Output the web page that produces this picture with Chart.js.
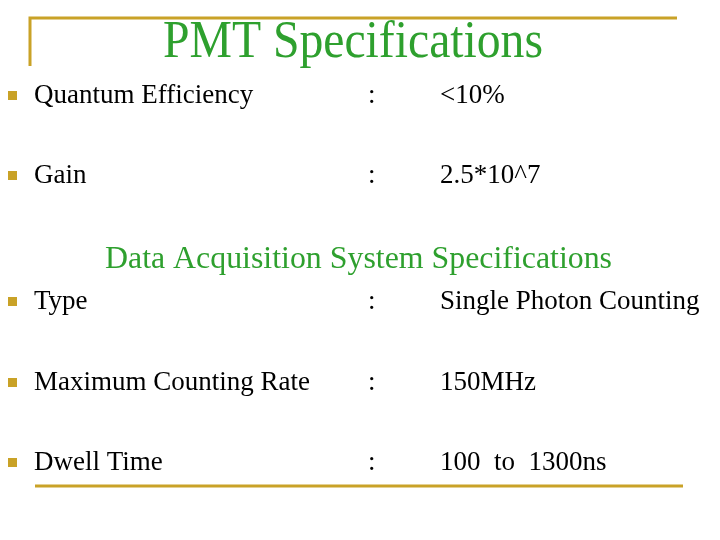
<!DOCTYPE html><html><head><script src="https://cdn.jsdelivr.net/npm/chart.js"></script>
<style>html,body{margin:0;background:#fff}#w{width:720px;height:540px}</style></head><body><div id="w"><canvas id="c"></canvas></div>
<script>
const title = "PMT Specifications";
const subtitle = "Data Acquisition System Specifications";
const labels = ["Quantum Efficiency","Gain","Type","Maximum Counting Rate","Dwell Time"];
const values = ["<10%","2.5*10^7","Single Photon Counting","150MHz","100  to  1300ns"];
const rowY = [96,176,302,383,463];
const gold = "#C9A227";
function fitText(ctx,t,x,y,w,align){
  const m = ctx.measureText(t).width; const s = w? w/m : 1;
  ctx.save(); ctx.translate(x,y); ctx.scale(s,1); ctx.textAlign=align||'left'; ctx.fillText(t,0,0); ctx.restore();
}
const slide = { id:'slide', afterDraw(ch){
  const ctx=ch.ctx, X=ch.scales.x, Y=ch.scales.y;
  const px=v=>X.getPixelForValue(v), py=v=>Y.getPixelForValue(v);
  ctx.save();
  ctx.strokeStyle=gold; ctx.lineWidth=3;
  ctx.beginPath(); ctx.moveTo(px(30),py(66)); ctx.lineTo(px(30),py(18)); ctx.lineTo(px(677),py(18)); ctx.stroke();
  ctx.beginPath(); ctx.moveTo(px(35),py(486)); ctx.lineTo(px(683),py(486)); ctx.stroke();
  ctx.textBaseline='middle';
  ctx.fillStyle='#2EA02E';
  ctx.font='52px "Liberation Serif"'; fitText(ctx,title,px(163),py(43),380);
  ctx.font='32px "Liberation Serif"'; fitText(ctx,subtitle,px(105),py(260),507);
  ctx.font='27px "Liberation Serif"';
  labels.forEach((l,i)=>{
    const y=py(rowY[i]);
    ctx.fillStyle=gold; ctx.fillRect(px(8),y-5,9,9);
    ctx.fillStyle='#000';
    ctx.fillText(l,px(34),y);
    ctx.fillText(':',px(368),y);
    ctx.fillText(values[i],px(440),y);
  });
  ctx.restore();
}};
new Chart(document.getElementById('c'),{type:'scatter',data:{datasets:[{data:[]}]},
 options:{responsive:true,maintainAspectRatio:false,animation:false,layout:{padding:0},
 plugins:{legend:{display:false},tooltip:{enabled:false}},
 scales:{x:{type:'linear',min:0,max:720,display:false},y:{type:'linear',min:0,max:540,reverse:true,display:false}}},
 plugins:[slide]});
</script></body></html>
